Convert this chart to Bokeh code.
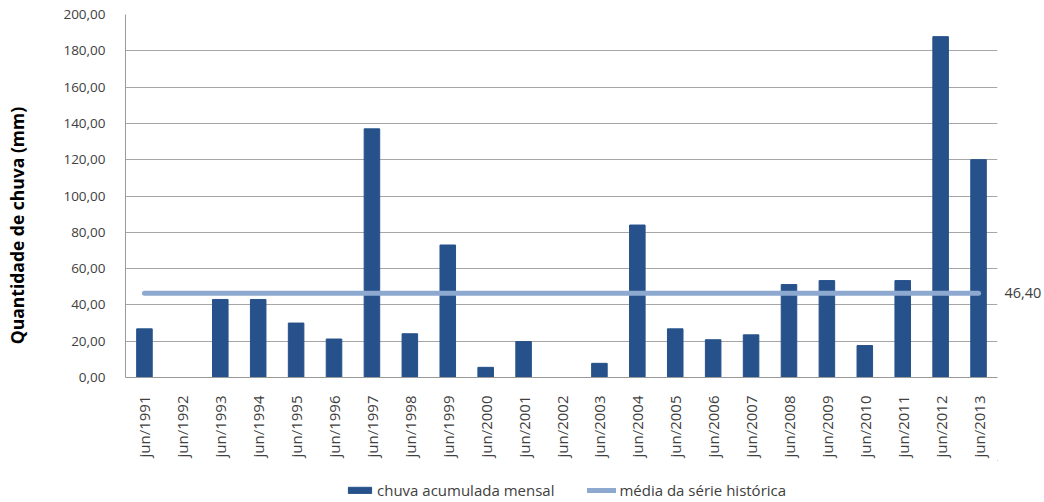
import math
from bokeh.plotting import figure
from bokeh.layouts import column
from bokeh.models import (FactorRange, CustomJSTickFormatter, Legend, LegendItem,
                          SingleIntervalTicker, FixedTicker, LinearAxis, Range1d)
from bokeh.embed import file_html
from bokeh.resources import INLINE

categories = ["jun/1991", "jun/1992", "jun/1993", "jun/1994", "jun/1995", "jun/1996",
              "jun/1997", "jun/1998", "jun/1999", "jun/2000", "jun/2001", "jun/2002",
              "jun/2003", "jun/2004", "jun/2005", "jun/2006", "jun/2007", "jun/2008",
              "jun/2009", "jun/2010", "jun/2011", "jun/2012", "jun/2013"]
chuva = [26.8, 0.0, 43.0, 43.0, 30.0, 21.2, 137.0, 24.1, 73.0, 5.6, 19.8, 0.0,
         7.8, 84.0, 26.8, 20.8, 23.5, 51.2, 53.4, 17.6, 53.4, 187.8, 120.0]
media_valor = 46.40
media = [media_valor] * len(categories)

FONT = "Open Sans"
BAR = "#26518a"
LINE = "#8ea9d0"
TXT = "#404040"
AXIS = "#9a9a9a"
fmt_code = "return tick.toFixed(2).replace('.', ',');"

p = figure(x_range=FactorRange(*categories, range_padding=0), y_range=(0, 200),
           width=1044, height=460, output_backend="svg", toolbar_location=None,
           min_border_left=125, min_border_right=43, min_border_top=14, min_border_bottom=78)

bars = p.vbar(x=categories, top=chuva, width=0.41, color=BAR)
ln = p.line(x=categories, y=media, line_width=5, color=LINE, line_cap="round")

p.outline_line_color = None
p.xgrid.grid_line_color = None
p.ygrid.grid_line_color = "#a6a6a6"
p.ygrid.grid_line_width = 1

p.yaxis.ticker = SingleIntervalTicker(interval=20)
p.yaxis.formatter = CustomJSTickFormatter(code=fmt_code)
p.yaxis.axis_line_color = AXIS
p.xaxis.axis_line_color = AXIS
for ax in (p.xaxis, p.yaxis):
    ax.major_tick_line_color = None
    ax.minor_tick_line_color = None
    ax.major_label_text_font = FONT
    ax.major_label_text_color = TXT
p.yaxis.major_label_text_font_size = "13.5px"
p.xaxis.major_label_text_font_size = "15px"
p.xaxis.major_label_orientation = math.pi / 2
p.xaxis.major_label_standoff = 12
p.yaxis.major_label_standoff = 14

# trailing no-break spaces shift the visible title slightly below the frame centre
p.yaxis.axis_label = "Quantidade de chuva (mm)" + "\u00a0" * 13
p.yaxis.axis_label_text_font = FONT
p.yaxis.axis_label_text_font_style = "bold"
p.yaxis.axis_label_text_font_size = "17.5px"
p.yaxis.axis_label_text_color = "#000000"
p.yaxis.axis_label_standoff = 31

# data label of the mean series, shown at the right end of the line
mean_axis = LinearAxis(ticker=FixedTicker(ticks=[media_valor]),
                       formatter=CustomJSTickFormatter(code=fmt_code),
                       axis_line_color=None, major_tick_line_color=None,
                       minor_tick_line_color=None, major_label_standoff=1,
                       major_label_text_font=FONT, major_label_text_font_size="14.5px",
                       major_label_text_color=TXT)
p.add_layout(mean_axis, "right")

# legend strip below the chart (proxy renderers kept outside the visible ranges)
lg = figure(width=1044, height=40, output_backend="svg", toolbar_location=None,
            x_axis_location=None, y_axis_location=None, min_border=0,
            x_range=Range1d(0, 1), y_range=Range1d(0, 1))
lg.outline_line_color = None
lg.grid.grid_line_color = None
lb = lg.vbar(x=[5], top=[6], bottom=[5], width=0.41, color=BAR)
ll = lg.line(x=[5, 6], y=[5, 5], line_width=5, color=LINE, line_cap="round")
legend = Legend(items=[LegendItem(label="chuva acumulada mensal", renderers=[lb]),
                       LegendItem(label="média da série histórica", renderers=[ll])],
                orientation="horizontal", location=(220, 0),
                label_text_font=FONT, label_text_font_size="15px", label_text_color=TXT,
                glyph_width=29, glyph_height=8, spacing=33, padding=0, margin=0,
                border_line_color=None, background_fill_alpha=0, label_standoff=3)
lg.add_layout(legend)

layout = column(p, lg, spacing=0)
open("out.html", "w").write(file_html(layout, INLINE))
